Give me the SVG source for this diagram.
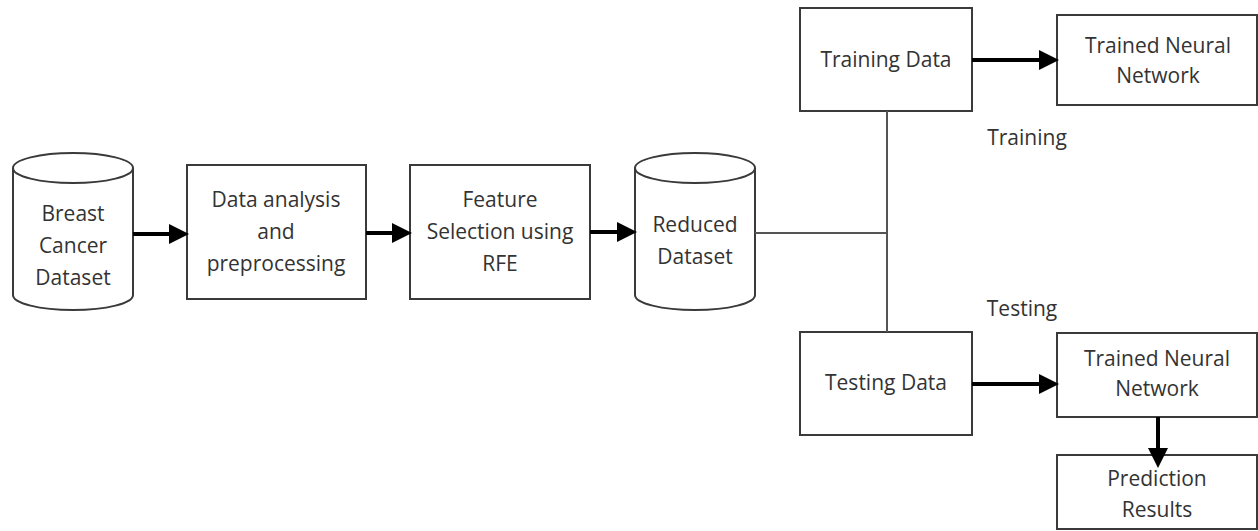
<svg xmlns="http://www.w3.org/2000/svg" width="1258" height="531" viewBox="0 0 1258 531">
<style>
.box{fill:#fff;stroke:#3a3a3a;stroke-width:2}
.t{font-family:"Open Sans",Lato,sans-serif;font-size:21px;font-weight:500;fill:#333;text-anchor:middle}
.arr{stroke:#000;stroke-width:4;fill:none;marker-end:url(#ah)}
.ln{stroke:#555;stroke-width:2;fill:none}
</style>
<defs>
<marker id="ah" markerWidth="5" markerHeight="5" refX="4" refY="2.5" orient="auto" markerUnits="strokeWidth">
<path d="M0,0 L5,2.5 L0,5 Z" fill="#000"/>
</marker>
</defs>
<rect width="1258" height="531" fill="#fff"/>
<g id="breast-cancer-dataset">
<path class="box" d="M13,168 L13,295 A60,15 0 0 0 133,295 L133,168"/>
<ellipse class="box" cx="73" cy="168" rx="60" ry="15"/>
<text class="t" x="73" y="221">Breast</text>
<text class="t" x="73" y="253">Cancer</text>
<text class="t" x="73" y="285">Dataset</text>
</g>
<g id="data-analysis">
<rect class="box" x="187" y="165" width="179" height="134"/>
<text class="t" x="276" y="207">Data analysis</text>
<text class="t" x="276" y="239">and</text>
<text class="t" x="276" y="271">preprocessing</text>
</g>
<g id="feature-selection">
<rect class="box" x="410" y="165" width="180" height="134"/>
<text class="t" x="500" y="207">Feature</text>
<text class="t" x="500" y="239">Selection using</text>
<text class="t" x="500" y="271">RFE</text>
</g>
<g id="reduced-dataset">
<path class="box" d="M635,168 L635,295 A60,15 0 0 0 755,295 L755,168"/>
<ellipse class="box" cx="695" cy="168" rx="60" ry="15"/>
<text class="t" x="695" y="232">Reduced</text>
<text class="t" x="695" y="264">Dataset</text>
</g>
<g id="training-data">
<rect class="box" x="800" y="8" width="172" height="103"/>
<text class="t" x="886" y="67">Training Data</text>
</g>
<g id="trained-nn-1">
<rect class="box" x="1057" y="15" width="200" height="90"/>
<text class="t" x="1158" y="53">Trained Neural</text>
<text class="t" x="1158" y="83">Network</text>
</g>
<g id="testing-data">
<rect class="box" x="800" y="332" width="172" height="103"/>
<text class="t" x="886" y="390">Testing Data</text>
</g>
<g id="trained-nn-2">
<rect class="box" x="1057" y="333" width="200" height="84"/>
<text class="t" x="1157" y="366">Trained Neural</text>
<text class="t" x="1157" y="396">Network</text>
</g>
<g id="prediction-results">
<rect class="box" x="1057" y="455" width="200" height="74"/>
<text class="t" x="1157" y="486">Prediction</text>
<text class="t" x="1157" y="517">Results</text>
</g>
<g id="labels">
<text class="t" x="1027" y="145">Training</text>
<text class="t" x="1022" y="316">Testing</text>
</g>
<g id="connectors">
<line class="arr" x1="133" y1="234" x2="185" y2="234"/>
<line class="arr" x1="366" y1="233" x2="408" y2="233"/>
<line class="arr" x1="590" y1="232" x2="633" y2="232"/>
<polyline class="ln" points="755,233 887,233"/>
<line class="ln" x1="887" y1="111" x2="887" y2="332"/>
<line class="arr" x1="972" y1="60" x2="1055" y2="60"/>
<line class="arr" x1="972" y1="384" x2="1055" y2="384"/>
<line class="arr" x1="1158" y1="417" x2="1158" y2="464"/>
</g>
</svg>
